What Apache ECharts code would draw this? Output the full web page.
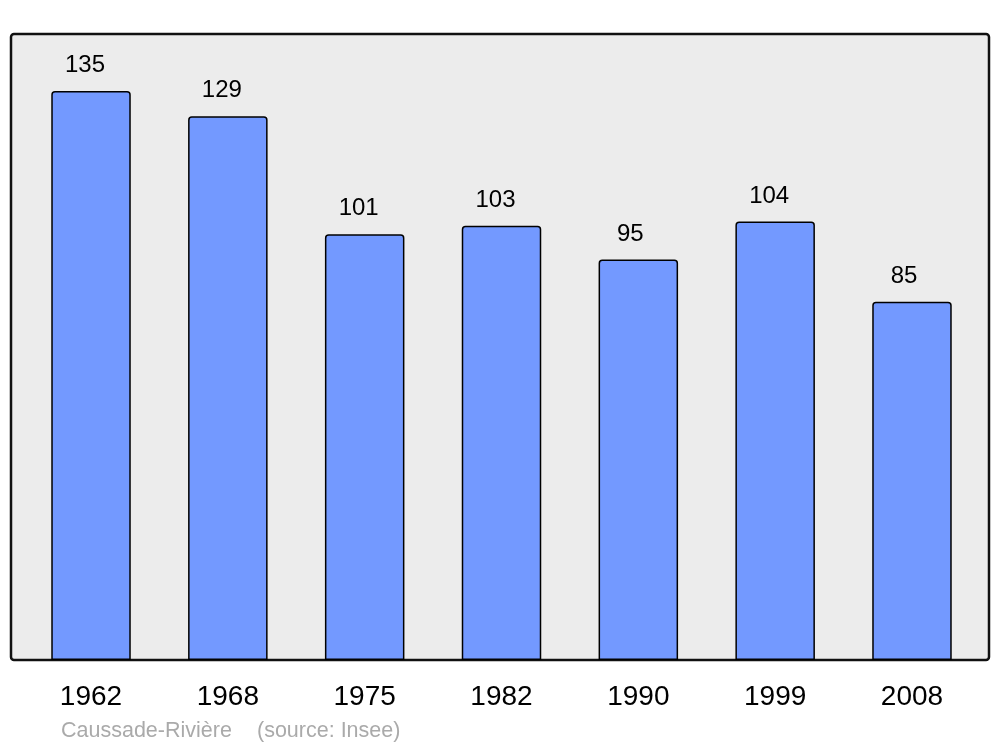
<!DOCTYPE html>
<html>
<head>
<meta charset="utf-8">
<script src="https://cdn.jsdelivr.net/npm/echarts@6/dist/echarts.min.js"></script>
<style>html,body{margin:0;padding:0;background:#fff}#c{width:1000px;height:747px}</style>
</head>
<body>
<div id="c"></div>
<script>
const years = ['1962','1968','1975','1982','1990','1999','2008'];
const population = [135,129,101,103,95,104,85];
const placeName = 'Caussade-Rivière';
const sourceText = '(source: Insee)';

const chart = echarts.init(document.getElementById('c'), null, {renderer:'canvas'});
chart.setOption({
  animation:false,
  backgroundColor:'#ffffff',
  textStyle:{fontFamily:'Liberation Sans, Arial, sans-serif'},
  graphic:[
    {type:'rect', z:-10, silent:true, shape:{x:11,y:34,width:978,height:626,r:3},
     style:{fill:'#ececec', stroke:'#111', lineWidth:2.5}},
    {type:'text', left:61, top:720, style:{text:placeName, fill:'#aaaaaa', font:'21.5px "Liberation Sans", Arial, sans-serif'}},
    {type:'text', left:257, top:720, style:{text:sourceText, fill:'#aaaaaa', font:'21.5px "Liberation Sans", Arial, sans-serif'}}
  ],
  grid:{left:22.6, right:19.6, top:34, bottom:87, containLabel:false},
  xAxis:{type:'category', data:years,
    axisLine:{show:false}, axisTick:{show:false},
    axisLabel:{fontSize:28, color:'#000', margin:23, fontFamily:'Liberation Sans, Arial, sans-serif'}},
  yAxis:{type:'value', min:0, max:148.5, show:false, splitLine:{show:false}},
  series:[{type:'bar', barWidth:79.5,
    data:population.map(v => ({value:v, label:{offset:[String(v).length < 3 ? -8 : -6, 0]}})),
    itemStyle:{color:'#7399ff', borderColor:'#000', borderWidth:1.5, borderRadius:[3,3,0,0]},
    label:{show:true, position:'top', distance:13.5, fontSize:24, color:'#000', fontFamily:'Liberation Sans, Arial, sans-serif'}
  }]
});
</script>
</body>
</html>
